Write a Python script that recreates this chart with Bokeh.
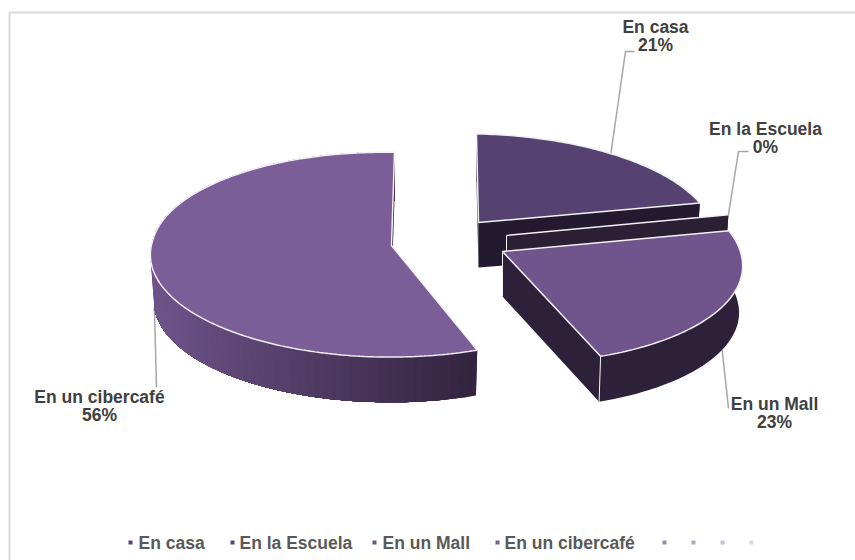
from math import radians, sin, cos

from bokeh.core.properties import value
from bokeh.embed import file_html
from bokeh.models import Range1d
from bokeh.plotting import figure
from bokeh.resources import INLINE

# Survey shares, in percent
categories = ["En casa", "En la Escuela", "En un Mall", "En un cibercafé"]
shares = [21, 0, 23, 56]

# Slice styling and the exploded placement of each slice on the canvas
top_colors = ["#564270", "#564270", "#70548C", "#7B5D98"]
wall_colors = ["#241A30", "#2A1F33", "#2C2138", "#2C2138"]
apexes = [(478, 222), (506, 235), (502, 251), (391, 245)]
slice_scale = [(0.98, 0.95), (0.98, 1), (1, 1), (1, 1)]
shear_back = [0.023, 0, 0, -0.032]
shear_front = [0, 0, 0.02, -0.1]
legend_marks = ["#5B4578", "#5B4578", "#6F548C", "#7B5D98", "#9B86B4", "#B3A5C6", "#C9BFD7", "#DDD7E5"]

W, H = 855, 560
RX, RY, PERSP = 239, 101.6, 0.09   # ellipse radii and depth foreshortening
DEPTH, SHRINK = 47, 0.985          # extrusion of the pie and taper of its underside
APEX_DEPTH = 45                    # the apex sits farther back, so its wall looks shorter
TILT = 0.018                       # slight roll of the pie plane
EDGE = "#F2F0F5"

p = figure(width=W, height=H, output_backend="svg", toolbar_location=None,
           x_range=Range1d(0, W), y_range=Range1d(H, 0),
           min_border=0, outline_line_color=None, background_fill_color="white",
           border_fill_color="white")
p.xaxis.visible = False
p.yaxis.visible = False
p.grid.visible = False


def project(i, deg, bottom=False):
    s, c = sin(radians(deg)), cos(radians(deg))
    f = 1 / (1 + PERSP * c)
    g = SHRINK if bottom else 1
    sx, sy = slice_scale[i]
    x = RX * s * f * sx
    y = -RY * c * f * sy
    x += (shear_back[i] if y < 0 else shear_front[i]) * y
    y += TILT * x
    ax, ay = apexes[i]
    return ax + x * g, ay + y * g + (DEPTH if bottom else 0)


def steps(a, b, size=1.0):
    n = max(1, int(abs(b - a) / size))
    return [a + (b - a) * k / n for k in range(n + 1)]


def blend(c1, c2, t):
    a = [int(c1[k:k + 2], 16) for k in (1, 3, 5)]
    b = [int(c2[k:k + 2], 16) for k in (1, 3, 5)]
    return "#%02x%02x%02x" % tuple(round(x + (y - x) * t) for x, y in zip(a, b))


# Chart frame: only its left and top sides fall inside the page
p.line([9, 9, W], [H, 12, 12], line_color="#D9D9D9", line_width=2)

# Angular span of each slice, clockwise from twelve o'clock
spans, start = [], 0.0
for share in shares:
    spans.append((start, start + share * 3.6))
    start += share * 3.6
mid = [(a + b) / 2 for a, b in spans]

# Leader lines run beneath the slices so the pie trims their inner ends
casa_rim = project(0, mid[0])
school_rim = project(1, mid[1])
mall_rim = project(2, mid[2], bottom=True)
cyber_rim = project(3, mid[3], bottom=True)
leaders = [
    ([casa_rim[0], 625, 634], [casa_rim[1], 51, 51]),
    ([school_rim[0], 738, 748], [school_rim[1], 151, 151]),
    ([mall_rim[0], 728], [mall_rim[1], 408]),
    ([cyber_rim[0], 156], [cyber_rim[1], 387]),
]
for xs, ys in leaders:
    p.line(xs, ys, line_color="#A6A6A6", line_width=1.5)


def rim_patch(i, a, b, color):
    ts = steps(a, b)
    upper = [project(i, t) for t in ts]
    lower = [project(i, t, bottom=True) for t in reversed(ts)]
    p.patch([q[0] for q in upper + lower], [q[1] for q in upper + lower],
            fill_color=color, line_color=None)


def draw_slice(i, rim_from=None, rim_to=None, seams=False):
    apex = apexes[i]
    a, b = spans[i]
    arc = [project(i, t) for t in steps(a, b)]
    start_low, end_low = project(i, a, bottom=True), project(i, b, bottom=True)
    apex_low = (apex[0], apex[1] + APEX_DEPTH)

    # Cut faces from the apex out to each radial edge
    for edge, low in ((arc[0], start_low), (arc[-1], end_low)):
        p.patch([apex[0], edge[0], low[0], apex_low[0]], [apex[1], edge[1], low[1], apex_low[1]],
                fill_color=wall_colors[i], line_color=None)

    # Outer rim; a shaded rim is painted as overlapping bands so no seams show
    if rim_from is None:
        rim_patch(i, a, b, wall_colors[i])
    else:
        for t in steps(a, b, 2.0)[:-1]:
            x = project(i, t)[0]
            color = blend(rim_to, rim_from, min(1, max(0, (apex[0] + 85 - x) / 321)))
            rim_patch(i, t, b, color)

    # Top face
    xs = [apex[0]] + [q[0] for q in arc]
    ys = [apex[1]] + [q[1] for q in arc]
    p.patch(xs, ys, fill_color=top_colors[i], line_color=EDGE, line_width=1.5)

    # Lit vertical corners of the slice
    if seams:
        p.line([apex[0], apex_low[0]], [apex[1], apex_low[1]], line_color=EDGE, line_width=1)
        if i != 1:
            corner, corner_low = project(i, b), project(i, b, bottom=True)
            p.line([corner[0], corner_low[0]], [corner[1], corner_low[1]], line_color=EDGE, line_width=1)


draw_slice(0)
draw_slice(1, seams=True)
draw_slice(2, seams=True)
draw_slice(3, rim_from="#6E5389", rim_to="#33243F")

# Data labels: category name over its percentage
label_font = value("Liberation Sans")
label_size = "17.5px"
label_spots = [(655, 26), (765, 128), (774, 403), (99, 396)]
for name, share, (x, y) in zip(categories, shares, label_spots):
    p.text([x], [y], text=[name], text_font=label_font, text_font_size=label_size,
           text_font_style="bold", text_color="#404040", text_align="center", text_baseline="middle")
    p.text([x], [y + 18], text=[f"{share}%"], text_font=label_font, text_font_size=label_size,
           text_font_style="bold", text_color="#404040", text_align="center", text_baseline="middle")

# Legend row: four named entries then four blank ones
legend_y = 542
mark_x = [130, 232, 374, 497, 664, 693, 722, 751]
text_x = [138, 239, 382, 504]
p.scatter(mark_x, [legend_y] * len(mark_x), marker="square", size=4,
          fill_color=legend_marks, line_color=None)
for name, x in zip(categories, text_x):
    p.text([x], [legend_y], text=[name], text_font=label_font, text_font_size=label_size,
           text_font_style="bold", text_color="#595959", text_align="left", text_baseline="middle")

open("out.html", "w").write(file_html(p, INLINE))
